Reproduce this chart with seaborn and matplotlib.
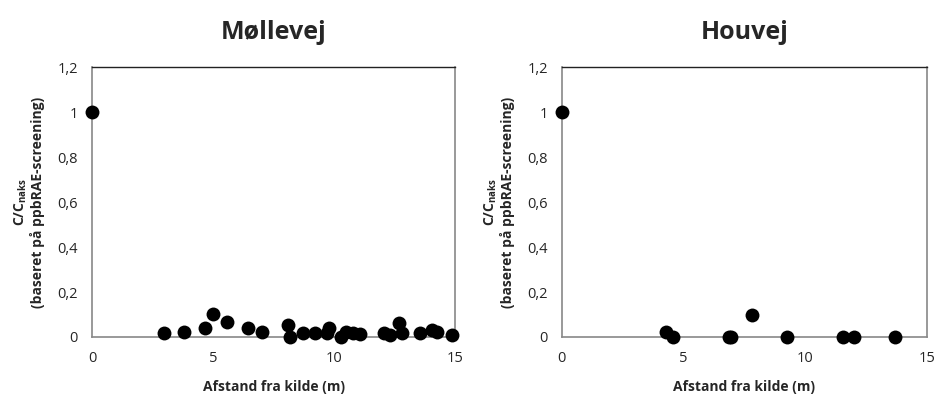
import pandas as pd
import matplotlib.pyplot as plt
import seaborn as sns

# Distances (m) and relative concentrations
moellevej_x = [0, 2.98, 3.81, 4.67, 5.01, 5.56, 6.46, 7.01, 8.11, 8.18, 8.70, 9.21,
               9.70, 9.77, 10.30, 10.50, 10.80, 11.07, 12.04, 12.30, 12.66, 12.80,
               13.55, 14.04, 14.25, 14.88]
moellevej_y = [1.0, 0.016, 0.024, 0.041, 0.100, 0.065, 0.039, 0.024, 0.053, 0.0, 0.016, 0.019,
               0.016, 0.038, 0.0, 0.024, 0.016, 0.012, 0.016, 0.009, 0.060, 0.016,
               0.019, 0.031, 0.024, 0.010]

houvej_x = [0, 4.28, 4.56, 6.87, 6.95, 7.80, 9.24, 11.54, 12.02, 13.69]
houvej_y = [1.0, 0.024, 0.0, 0.0, 0.0, 0.098, 0.0, 0.0, 0.0, 0.0]

titles = ["Møllevej", "Houvej"]
x_ticks = [0, 5, 10, 15]
y_ticks = [0, 0.2, 0.4, 0.6, 0.8, 1.0, 1.2]
y_labels = ["0", "0,2", "0,4", "0,6", "0,8", "1", "1,2"]

sns.set_style("white")
plt.rcParams['font.family'] = ['Open Sans', 'DejaVu Sans']

fig = plt.figure(figsize=(9.36, 3.94), dpi=100)
axes = [fig.add_axes([0.0983, 0.1447, 0.388, 0.685]),
        fig.add_axes([0.6001, 0.1447, 0.390, 0.685])]

datasets = [(moellevej_x, moellevej_y), (houvej_x, houvej_y)]

for ax, (xs, ys), title in zip(axes, datasets, titles):
    df = pd.DataFrame({"x": xs, "y": ys})
    sns.scatterplot(data=df, x="x", y="y", ax=ax, color="black", s=100,
                    edgecolor="black", linewidth=0, clip_on=False, zorder=5)
    ax.set_xlim(0, 15)
    ax.set_ylim(0, 1.2)
    ax.set_xticks(x_ticks)
    ax.set_xticklabels([str(t) for t in x_ticks], fontsize=10.5)
    ax.set_yticks(y_ticks)
    ax.set_yticklabels(y_labels, fontsize=10.5)
    ax.tick_params(axis="both", length=4, width=1, color="#888888", direction="inout", pad=8)
    for side in ["left", "bottom", "right"]:
        ax.spines[side].set_color("#888888")
        ax.spines[side].set_linewidth(1.2)
    ax.spines["top"].set_color("#222222")
    ax.spines["top"].set_linewidth(1.0)
    ax.set_title(title, fontsize=18, weight="bold", pad=20)
    ax.set_xlabel("Afstand fra kilde (m)", fontsize=10, weight="bold", labelpad=10)
    ax.set_ylabel("C/C$_\\mathregular{naks}$\n(baseret på ppbRAE-screening)",
                  fontsize=10, weight="bold", labelpad=9, linespacing=1.1)

fig.savefig("out.png", dpi=100)
